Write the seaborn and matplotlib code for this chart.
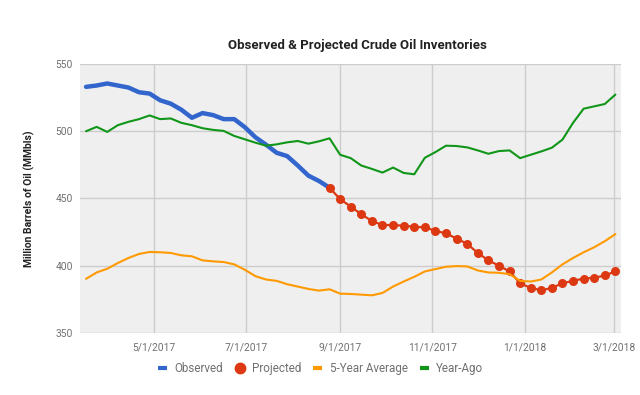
import pandas as pd
import matplotlib.pyplot as plt
from matplotlib.lines import Line2D
import seaborn as sns

# weekly dates, 3/17/2017 through 3/2/2018
dates = pd.date_range('2017-03-17', periods=51, freq='7D')

observed = [533, 534, 535.5, 534, 532.5, 529, 528, 523, 520.5, 516, 510, 513.5,
            512, 509, 509, 503, 495.5, 490, 484, 481.5, 474.5, 467, 463, 458]

projected = [458, 449.5, 444, 438.25, 433.25, 430.25, 430.25, 429.75, 429, 428.5,
             426, 424, 420.25, 416.25, 409.5, 404, 400, 395.75, 387, 383.5,
             381.75, 383.5, 387, 388.75, 390.5, 391, 392.75, 395.75]

five_year_avg = [390.25, 395, 397.75, 402, 405.75, 408.75, 410.25, 410, 409.5, 407.75,
                 407, 404, 403.25, 402.75, 401, 397, 392.25, 389.75, 388.75, 386.25,
                 384.5, 382.75, 381.5, 382.5, 379.25, 379, 378.5, 378, 379.75, 384.5,
                 388.25, 391.75, 395.75, 397.5, 399.25, 399.75, 399.5, 396.5, 395,
                 394.75, 393.75, 388.75, 388.25, 389.75, 395, 401, 405.75, 410,
                 413.75, 418.25, 423.5]

year_ago = [500, 503.25, 499.5, 504.5, 507, 509, 511.75, 509, 509.5, 506.25,
            504.5, 502.25, 501, 500.25, 496.5, 494, 491.5, 489.25, 490.25, 491.75,
            492.75, 490.75, 492.5, 494.75, 482.5, 480, 474.5, 472, 469.25, 473,
            469, 468, 480.25, 484.5, 489.25, 489, 488, 485.75, 483.25, 485.25,
            485.75, 480, 482.5, 485, 487.75, 493.75, 506.25, 516.75, 518.5,
            520.25, 527.25]

tick_dates = ['2017-05-01', '2017-07-01', '2017-09-01', '2017-11-01', '2018-01-01', '2018-03-01']
tick_labels = ['5/1/2017', '7/1/2017', '9/1/2017', '11/1/2017', '1/1/2018', '3/1/2018']

colors = {'Observed': '#3366cc', 'Projected': '#dc3912',
          '5-Year Average': '#ff9900', 'Year-Ago': '#109618'}

df_obs = pd.DataFrame({'date': dates[:len(observed)], 'value': observed})
df_proj = pd.DataFrame({'date': dates[len(observed) - 1:], 'value': projected})
df_avg = pd.DataFrame({'date': dates, 'value': five_year_avg})
df_ago = pd.DataFrame({'date': dates, 'value': year_ago})

sns.set_style('white')
plt.rcParams['font.family'] = ['Roboto', 'DejaVu Sans']

fig = plt.figure(figsize=(6.4, 3.95), dpi=100)
ax = fig.add_axes([0.125, 0.157, 0.846, 0.681])
ax.set_facecolor('#efefef')

sns.lineplot(data=df_obs, x='date', y='value', color=colors['Observed'], linewidth=3.2, ax=ax)
sns.lineplot(data=df_proj, x='date', y='value', color=colors['Projected'], linewidth=1.6,
             marker='o', markersize=6.5, markeredgewidth=0, ax=ax)
sns.lineplot(data=df_avg, x='date', y='value', color=colors['5-Year Average'], linewidth=1.5, ax=ax)
sns.lineplot(data=df_ago, x='date', y='value', color=colors['Year-Ago'], linewidth=1.5, ax=ax)

ax.set_ylim(350, 550)
ax.set_yticks([350, 400, 450, 500, 550])
ax.set_xlim(pd.Timestamp('2017-03-13'), pd.Timestamp('2018-03-06'))
ax.set_xticks(pd.to_datetime(tick_dates))
ax.set_xticklabels(tick_labels)
ax.grid(True, color='#cccccc', linewidth=1)
ax.set_axisbelow(True)
for s in ax.spines.values():
    s.set_visible(False)
ax.tick_params(length=0, labelsize=7.4, colors='#707070', pad=5)
ax.tick_params(axis='x', pad=7)

ax.set_xlabel('')
ax.set_ylabel('Million Barrels of Oil (MMbls)', fontsize=7.5, fontweight='bold', color='#222222', labelpad=15)
fig.suptitle('Observed & Projected Crude Oil Inventories', x=0.559, y=0.902,
             fontsize=9.5, fontweight='bold', color='#222222')

handles = [
    Line2D([], [], color=colors['Observed'], linewidth=3, solid_capstyle='butt'),
    Line2D([], [], color=colors['Projected'], linestyle='none', marker='o', markersize=7.5),
    Line2D([], [], color=colors['5-Year Average'], linewidth=3, solid_capstyle='butt'),
    Line2D([], [], color=colors['Year-Ago'], linewidth=3, solid_capstyle='butt'),
]
fig.legend(handles, list(colors.keys()), loc='center', bbox_to_anchor=(0.501, 0.066),
           ncol=4, frameon=False, fontsize=8.4, handlelength=0.75, handletextpad=0.65,
           columnspacing=1.05, labelcolor='#707070', borderaxespad=0, borderpad=0)

plt.savefig('out.png', dpi=100)
